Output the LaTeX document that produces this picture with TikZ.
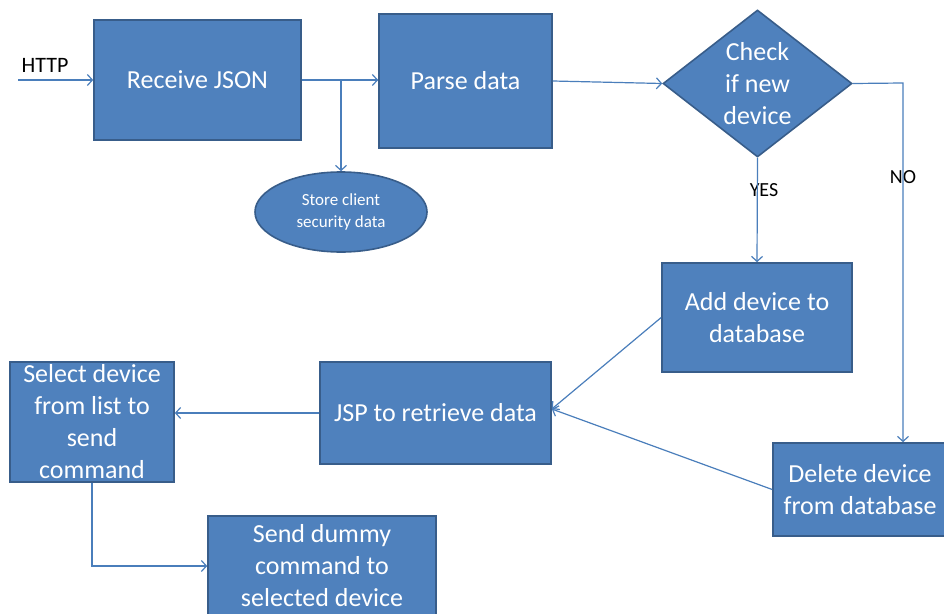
\documentclass[tikz,border=0pt]{standalone}
\usepackage{fontspec}
\setmainfont{Carlito}
\usetikzlibrary{shapes.geometric, arrows.meta}

\definecolor{boxfill}{HTML}{4F81BD}
\definecolor{boxline}{HTML}{385D8A}
\definecolor{flowline}{HTML}{4A7EBB}

\begin{document}
\begin{tikzpicture} [x=1pt, y=-1pt,
        box/.style = {draw=boxline, fill=boxfill, line width=1.6pt, text=white, align=center, inner sep=0pt,
                      font=\fontsize{26}{32}\selectfont},
        flow/.style = {draw=flowline, line width=1.2pt, -{Straight Barb[length=5pt, width=11pt, line width=1.2pt]}},
        tag/.style = {font=\fontsize{20}{24}\selectfont, inner sep=0pt}]
        \useasboundingbox (0,0) rectangle (944,613);

        \node (rcv) [box, minimum width=207, minimum height=120] at (197.5,80) {Receive JSON};
        \node (parse) [box, minimum width=173, minimum height=134] at (465.5,81) {Parse data};
        \node (store) [box, ellipse, minimum width=172, minimum height=80, font=\fontsize{17}{22}\selectfont] at (341,212) {Store client\\security data};
        \node (chk) [box, diamond, aspect=1.29, minimum width=189, minimum height=147] at (757.5,83.5) {Check\\if new\\device};
        \node (add) [box, minimum width=190, minimum height=109] at (757,317.5) {Add device to\\database};
        \node (del) [box, minimum width=174, minimum height=93] at (860,489.5) {Delete device\\from database};
        \node (jsp) [box, minimum width=231, minimum height=102] at (435.5,413) {JSP to retrieve data};
        \node (sel) [box, minimum width=164, minimum height=120] at (92,422) {Select device\\from list to\\send\\command};
        \node (send) [box, minimum width=228, minimum height=100] at (322,566) {Send dummy\\command to\\selected device};

        \node (http) [tag, font=\fontsize{22}{26}\selectfont] at (45,65) {HTTP};
        \node (yes) [tag] at (764,190) {YES};
        \node (no) [tag] at (903,177) {NO};

        \coordinate (httpin) at (18,80);
        \coordinate (nobend) at (903,83);
        \coordinate (jspin) at ([yshift=4pt]jsp.east);

        \path [flow] (httpin) -- (rcv.west);
        \path [flow] (rcv.east) -- (rcv.east -| parse.west);
        \path [flow] (rcv.east -| store.north) -- (store.north);
        \path [flow] (parse.east) -- (chk.west);
        \path [flow] (chk.south) -- (add.north);
        \path [flow] (chk.east) -- (nobend) -- (nobend |- del.north);
        \path [flow] (add.west) -- (jspin);
        \path [flow] (del.west) -- (jspin);
        \path [flow] (jsp.west) -- (sel.east |- jsp.west);
        \path [flow] (sel.south) |- (send.west);
    \end{tikzpicture}
\end{document}
